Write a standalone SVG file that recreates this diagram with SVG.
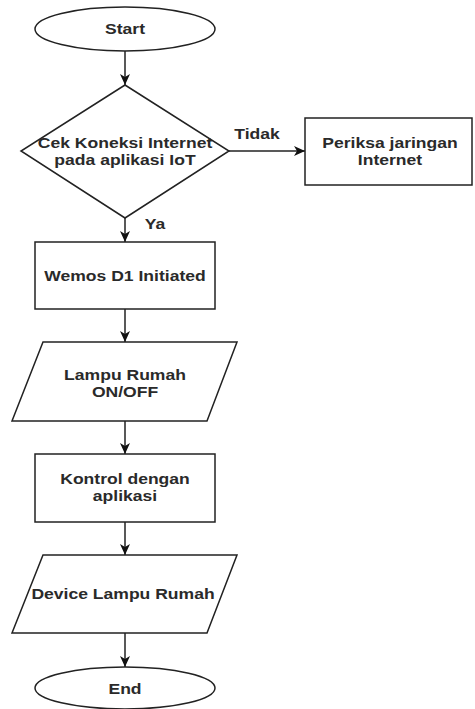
<svg xmlns="http://www.w3.org/2000/svg" width="475" height="709" viewBox="0 0 475 709">
<defs>
<style>
.s{fill:#fff;stroke:#222;stroke-width:1.5}
.t{font-family:"Liberation Sans",Arial,sans-serif;font-weight:bold;font-size:15px;fill:#2a2a2a;text-anchor:middle}
.c{stroke:#222;stroke-width:1.5;fill:none;marker-end:url(#ah)}
</style>
<marker id="ah" markerUnits="userSpaceOnUse" markerWidth="12" markerHeight="12" refX="11" refY="6" orient="auto">
<path d="M0,1 L11,6 L0,11 L3,6 z" fill="#111"/>
</marker>
</defs>
<rect width="475" height="709" fill="#fff"/>
<g id="connectors">
<line class="c" x1="125" y1="51" x2="125" y2="85"/>
<line class="c" x1="229" y1="151" x2="305" y2="151"/>
<line class="c" x1="125" y1="218" x2="125" y2="242"/>
<line class="c" x1="125" y1="309" x2="125" y2="342"/>
<line class="c" x1="125" y1="421" x2="125" y2="454"/>
<line class="c" x1="125" y1="522" x2="125" y2="555"/>
<line class="c" x1="125" y1="633" x2="125" y2="667"/>
<text class="t" transform="translate(257,139) scale(1.17,1)">Tidak</text>
<text class="t" transform="translate(155,229) scale(1.17,1)">Ya</text>
</g>
<g id="start">
<ellipse class="s" cx="125" cy="29" rx="90" ry="22"/>
<text class="t" transform="translate(125,34) scale(1.17,1)">Start</text>
</g>
<g id="cek">
<polygon class="s" points="125,85 229,151 125,218 21,151"/>
<text class="t" transform="translate(125,148) scale(1.17,1)">Cek Koneksi Internet</text>
<text class="t" transform="translate(125,165) scale(1.17,1)">pada aplikasi IoT</text>
</g>
<g id="periksa">
<rect class="s" x="305" y="118" width="167" height="67"/>
<text class="t" transform="translate(390,148) scale(1.17,1)">Periksa jaringan</text>
<text class="t" transform="translate(390,165) scale(1.17,1)">Internet</text>
</g>
<g id="wemos">
<rect class="s" x="35" y="242" width="180" height="67"/>
<text class="t" transform="translate(125,281) scale(1.17,1)">Wemos D1 Initiated</text>
</g>
<g id="lampu">
<polygon class="s" points="43,342 237,342 207,421 12,421"/>
<text class="t" transform="translate(125,380) scale(1.17,1)">Lampu Rumah</text>
<text class="t" transform="translate(125,397) scale(1.17,1)">ON/OFF</text>
</g>
<g id="kontrol">
<rect class="s" x="35" y="454" width="180" height="68"/>
<text class="t" transform="translate(125,484) scale(1.17,1)">Kontrol dengan</text>
<text class="t" transform="translate(125,501) scale(1.17,1)">aplikasi</text>
</g>
<g id="device">
<polygon class="s" points="43,555 237,555 207,633 12,633"/>
<text class="t" transform="translate(123,599) scale(1.17,1)">Device Lampu Rumah</text>
</g>
<g id="end">
<ellipse class="s" cx="125" cy="688" rx="90" ry="21"/>
<text class="t" transform="translate(125,694) scale(1.17,1)">End</text>
</g>
</svg>
